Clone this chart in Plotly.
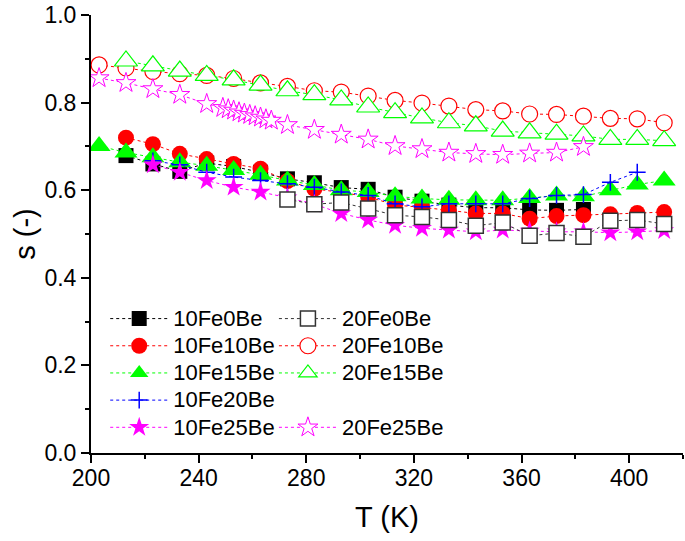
import plotly.graph_objects as go

# ---------------- data ----------------
T_10Fe0Be = [213, 223, 233, 243, 253, 263, 273, 283, 293, 303, 313, 323, 333, 343, 353, 363, 373, 383]
s_10Fe0Be = [0.679, 0.660, 0.643, 0.662, 0.654, 0.641, 0.626, 0.617, 0.606, 0.602, 0.584, 0.575, 0.566,
             0.560, 0.560, 0.555, 0.554, 0.556]

T_10Fe10Be = [213, 223, 233, 243, 253, 263, 273, 283, 293, 303, 313, 323, 333, 343, 353, 363, 373, 383,
              393, 403, 413]
s_10Fe10Be = [0.720, 0.705, 0.683, 0.671, 0.660, 0.649, 0.621, 0.603, 0.595, 0.585, 0.566, 0.561, 0.554,
              0.547, 0.547, 0.535, 0.541, 0.543, 0.545, 0.548, 0.550]

T_10Fe15Be = [203, 213, 223, 233, 243, 253, 263, 273, 283, 293, 303, 313, 323, 333, 343, 353, 363, 373,
              383, 393, 403, 413]
s_10Fe15Be = [0.701, 0.686, 0.675, 0.664, 0.656, 0.646, 0.635, 0.622, 0.612, 0.600, 0.596, 0.586, 0.581,
              0.578, 0.577, 0.577, 0.582, 0.588, 0.586, 0.600, 0.613, 0.622]

T_10Fe20Be = [223, 233, 243, 253, 263, 273, 283, 293, 303, 313, 323, 333, 343, 353, 363, 373, 383, 393, 403]
s_10Fe20Be = [0.667, 0.658, 0.641, 0.630, 0.622, 0.615, 0.607, 0.596, 0.588, 0.569, 0.562, 0.569, 0.569,
              0.569, 0.581, 0.588, 0.590, 0.618, 0.641]

T_10Fe25Be = [223, 233, 243, 253, 263, 273, 283, 293, 303, 313, 323, 333, 343, 353, 363, 373, 383, 393,
              403, 413]
s_10Fe25Be = [0.658, 0.641, 0.622, 0.607, 0.596, 0.583, 0.568, 0.547, 0.532, 0.520, 0.513, 0.509, 0.505,
              0.509, 0.507, 0.505, 0.505, 0.503, 0.505, 0.508]

T_20Fe0Be = [273, 283, 293, 303, 313, 323, 333, 343, 353, 363, 373, 383, 393, 403, 413]
s_20Fe0Be = [0.579, 0.568, 0.572, 0.558, 0.543, 0.539, 0.532, 0.519, 0.526, 0.496, 0.502, 0.494, 0.530,
             0.532, 0.523]

T_20Fe10Be = [203, 213, 223, 233, 243, 253, 263, 273, 283, 293, 303, 313, 323, 333, 343, 353, 363, 373,
              383, 393, 403, 413]
s_20Fe10Be = [0.886, 0.879, 0.871, 0.866, 0.862, 0.855, 0.845, 0.837, 0.827, 0.824, 0.815, 0.805, 0.799,
              0.792, 0.784, 0.781, 0.774, 0.773, 0.769, 0.764, 0.763, 0.754]

T_20Fe15Be = [213, 223, 233, 243, 253, 263, 273, 283, 293, 303, 313, 323, 333, 343, 353, 363, 373, 383,
              393, 403, 413]
s_20Fe15Be = [0.895, 0.884, 0.872, 0.862, 0.852, 0.840, 0.827, 0.818, 0.806, 0.790, 0.777, 0.765, 0.754,
              0.747, 0.735, 0.731, 0.728, 0.724, 0.716, 0.716, 0.713]

T_20Fe25Be = [203, 213, 223, 233, 243, 249, 251, 253, 255, 257, 259, 261, 263, 265, 267, 273, 283, 293,
              303, 313, 323, 333, 343, 353, 363, 373, 383]
s_20Fe25Be = [0.856, 0.845, 0.831, 0.818, 0.797, 0.788, 0.785, 0.782, 0.778, 0.775, 0.772, 0.769, 0.766,
              0.762, 0.759, 0.749, 0.738, 0.727, 0.716, 0.701, 0.694, 0.686, 0.683, 0.681, 0.684, 0.686,
              0.699]

x_ticks = [200, 240, 280, 320, 360, 400]
y_ticks = [0.0, 0.2, 0.4, 0.6, 0.8, 1.0]

FONT = "Liberation Sans, Arial, sans-serif"
BLACK, RED, GREEN, BLUE, MAG = "#000000", "#FF0000", "#00FF00", "#0000FF", "#FF00FF"
DASH = "3px,3px"
LEG_TEXT = "<span style='font-size:22px'>{}</span>"

fig = go.Figure()


def add(x, y, name, symbol, size, fill, edge, lcolor, legend, lw=1.2):
    fig.add_trace(go.Scatter(
        x=x, y=y, name=LEG_TEXT.format(name), mode="lines+markers", legend=legend,
        line=dict(color=lcolor, width=1, dash=DASH),
        marker=dict(symbol=symbol, size=size, color=fill, line=dict(color=edge, width=lw)),
    ))


add(T_10Fe0Be, s_10Fe0Be, "10Fe0Be", "square", 15, BLACK, BLACK, BLACK, "legend", 0)
add(T_10Fe10Be, s_10Fe10Be, "10Fe10Be", "circle", 16, RED, RED, RED, "legend", 0)
add(T_10Fe15Be, s_10Fe15Be, "10Fe15Be", "triangle-up", 20, GREEN, GREEN, GREEN, "legend", 0)
add(T_10Fe20Be, s_10Fe20Be, "10Fe20Be", "cross-thin", 12, BLUE, BLUE, BLUE, "legend", 1.5)
add(T_10Fe25Be, s_10Fe25Be, "10Fe25Be", "star", 15, MAG, MAG, MAG, "legend", 0)
add(T_20Fe0Be, s_20Fe0Be, "20Fe0Be", "square", 15, "white", "#333333", "#333333", "legend2", 1.5)
add(T_20Fe10Be, s_20Fe10Be, "20Fe10Be", "circle", 16, "white", RED, RED, "legend2", 1.2)
add(T_20Fe15Be, s_20Fe15Be, "20Fe15Be", "triangle-up", 20, "white", GREEN, GREEN, "legend2", 1.2)
# blank placeholder entry to keep the two-column legend aligned
fig.add_trace(go.Scatter(x=[None], y=[None], name=" ", mode="markers", legend="legend2",
                         marker=dict(color="rgba(0,0,0,0)", size=1), hoverinfo="skip"))
add(T_20Fe25Be, s_20Fe25Be, "20Fe25Be", "star", 15, "white", MAG, MAG, "legend2", 1.0)

axis_common = dict(
    showgrid=False, zeroline=False, showline=True, linecolor="black", linewidth=2,
    ticks="outside", ticklen=8, tickwidth=2, tickcolor="black",
    tickfont=dict(family=FONT, size=23, color="black"),
    mirror=False,
)

fig.update_xaxes(
    range=[200, 420], tickmode="array", tickvals=x_ticks, ticktext=[str(v) for v in x_ticks],
    minor=dict(dtick=20, tick0=200, ticks="outside", ticklen=4, tickwidth=2, tickcolor="black"),
    ticklabelstandoff=-5,
    title=dict(text="T (K)", font=dict(family=FONT, size=29, color="black"), standoff=17),
    **axis_common,
)
fig.update_yaxes(
    range=[0, 1.0], tickmode="array", tickvals=y_ticks, ticktext=[f"{v:.1f}" for v in y_ticks],
    minor=dict(dtick=0.1, tick0=0, ticks="outside", ticklen=4, tickwidth=2, tickcolor="black"),
    title=dict(text="s (-)", font=dict(family=FONT, size=29, color="black"), standoff=0),
    **axis_common,
)

legend_common = dict(
    bgcolor="rgba(0,0,0,0)", borderwidth=0, font=dict(family=FONT, size=18.6, color="black"),
    orientation="v", xanchor="left", yanchor="bottom", traceorder="normal",
    itemwidth=58, tracegroupgap=0,
)

fig.update_layout(
    width=685, height=541,
    margin=dict(l=91, r=2, t=13, b=88),
    paper_bgcolor="white", plot_bgcolor="white",
    font=dict(family=FONT, color="black"),
    showlegend=True,
    legend=dict(x=0.024, y=0.016, **legend_common),
    legend2=dict(x=0.309, y=0.016, **legend_common),
)

fig.write_html("out.html", config={"displayModeBar": False},
               post_script="document.body.style.margin='0';document.body.style.padding='0';")
